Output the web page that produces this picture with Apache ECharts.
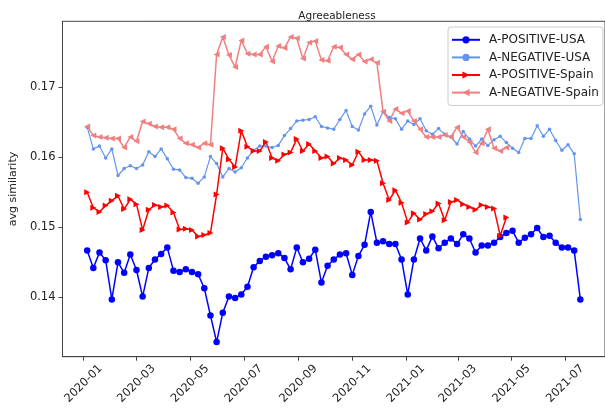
<!DOCTYPE html>
<html>
<head>
<meta charset="utf-8">
<script src="https://cdn.jsdelivr.net/npm/echarts@6/dist/echarts.min.js"></script>
<style>
  html, body { margin: 0; padding: 0; background: #fff; }
  #chart { width: 605px; height: 408px; }
</style>
</head>
<body>
<div id="chart"></div>
<script>
// Weekly sample dates (week starting Sunday)
const weeks = [
  '2020-01-05','2020-01-12','2020-01-19','2020-01-26','2020-02-02','2020-02-09','2020-02-16','2020-02-23',
  '2020-03-01','2020-03-08','2020-03-15','2020-03-22','2020-03-29','2020-04-05','2020-04-12','2020-04-19',
  '2020-04-26','2020-05-03','2020-05-10','2020-05-17','2020-05-24','2020-05-31','2020-06-07','2020-06-14',
  '2020-06-21','2020-06-28','2020-07-05','2020-07-12','2020-07-19','2020-07-26','2020-08-02','2020-08-09',
  '2020-08-16','2020-08-23','2020-08-30','2020-09-06','2020-09-13','2020-09-20','2020-09-27','2020-10-04',
  '2020-10-11','2020-10-18','2020-10-25','2020-11-01','2020-11-08','2020-11-15','2020-11-22','2020-11-29',
  '2020-12-06','2020-12-13','2020-12-20','2020-12-27','2021-01-03','2021-01-10','2021-01-17','2021-01-24',
  '2021-01-31','2021-02-07','2021-02-14','2021-02-21','2021-02-28','2021-03-07','2021-03-14','2021-03-21',
  '2021-03-28','2021-04-04','2021-04-11','2021-04-18','2021-04-25','2021-05-02','2021-05-09','2021-05-16',
  '2021-05-23','2021-05-30','2021-06-06','2021-06-13','2021-06-20','2021-06-27','2021-07-04','2021-07-11',
  '2021-07-18'
];

const positiveUSA = [
  0.1467, 0.1442, 0.1464, 0.1453, 0.1397, 0.1450, 0.1435, 0.1461, 0.1439, 0.1401,
  0.1442, 0.1454, 0.1462, 0.1471, 0.1438, 0.1436, 0.1440, 0.1436, 0.1433, 0.1413,
  0.1374, 0.1336, 0.1378, 0.1401, 0.1399, 0.1404, 0.1415, 0.1443, 0.1452, 0.1458,
  0.1460, 0.1463, 0.1456, 0.1440, 0.1471, 0.1450, 0.1455, 0.1468, 0.1421, 0.1445,
  0.1454, 0.1461, 0.1463, 0.1432, 0.1459, 0.1475, 0.1522, 0.1478, 0.1480, 0.1476,
  0.1476, 0.1454, 0.1404, 0.1454, 0.1484, 0.1467, 0.1487, 0.1470, 0.1478, 0.1484,
  0.1476, 0.1490, 0.1484, 0.1464, 0.1474, 0.1474, 0.1478, 0.1486, 0.1492, 0.1495,
  0.1478, 0.1485, 0.1490, 0.1499, 0.1486, 0.1488, 0.1478, 0.1471, 0.1471, 0.1467,
  0.1397
];

const negativeUSA = [
  0.1643, 0.1612, 0.1616, 0.1599, 0.1612, 0.1574, 0.1584, 0.1588, 0.1584, 0.1589,
  0.1608, 0.1601, 0.1612, 0.1598, 0.1583, 0.1582, 0.1571, 0.1570, 0.1563, 0.1572,
  0.1601, 0.1591, 0.1572, 0.1584, 0.1579, 0.1585, 0.1599, 0.1610, 0.1616, 0.1616,
  0.1614, 0.1617, 0.1631, 0.1641, 0.1652, 0.1653, 0.1654, 0.1658, 0.1644, 0.1642,
  0.1640, 0.1654, 0.1667, 0.1644, 0.1639, 0.1662, 0.1673, 0.1646, 0.1665, 0.1657,
  0.1655, 0.1640, 0.1652, 0.1647, 0.1655, 0.1638, 0.1633, 0.1641, 0.1633, 0.1629,
  0.1619, 0.1637, 0.1626, 0.1616, 0.1626, 0.1617, 0.1625, 0.1630, 0.1621, 0.1613,
  0.1607, 0.1627, 0.1627, 0.1645, 0.1630, 0.1640, 0.1624, 0.1610, 0.1618, 0.1605,
  0.1511
];

const positiveSpain = [
  0.1550, 0.1528, 0.1522, 0.1531, 0.1538, 0.1545, 0.1526, 0.1540, 0.1533, 0.1496,
  0.1525, 0.1532, 0.1529, 0.1531, 0.1521, 0.1497, 0.1498, 0.1496, 0.1487, 0.1489,
  0.1492, 0.1547, 0.1613, 0.1597, 0.1586, 0.1638, 0.1615, 0.1609, 0.1609, 0.1622,
  0.1599, 0.1595, 0.1604, 0.1607, 0.1626, 0.1609, 0.1619, 0.1609, 0.1599, 0.1601,
  0.1591, 0.1599, 0.1596, 0.1589, 0.1608, 0.1596, 0.1596, 0.1595, 0.1563, 0.1539,
  0.1553, 0.1535, 0.1507, 0.1520, 0.1511, 0.1519, 0.1523, 0.1534, 0.1510, 0.1536,
  0.1539, 0.1533, 0.1529, 0.1525, 0.1532, 0.1529, 0.1527, 0.1488, 0.1514
];

const negativeSpain = [
  0.1644, 0.1631, 0.1629, 0.1628, 0.1627, 0.1627, 0.1614, 0.1629, 0.1623, 0.1651,
  0.1648, 0.1644, 0.1643, 0.1643, 0.1640, 0.1627, 0.1620, 0.1618, 0.1614, 0.1620,
  0.1618, 0.1747, 0.1772, 0.1746, 0.1729, 0.1767, 0.1748, 0.1747, 0.1747, 0.1758,
  0.1737, 0.1759, 0.1756, 0.1772, 0.1770, 0.1741, 0.1764, 0.1766, 0.1739, 0.1738,
  0.1758, 0.1757, 0.1747, 0.1740, 0.1747, 0.1737, 0.1740, 0.1735, 0.1665, 0.1652,
  0.1669, 0.1663, 0.1666, 0.1652, 0.1640, 0.1629, 0.1629, 0.1629, 0.1632, 0.1629,
  0.1643, 0.1629, 0.1622, 0.1607, 0.1620, 0.1640, 0.1613, 0.1609, 0.1614
];

const xTickLabels = ['2020-01','2020-03','2020-05','2020-07','2020-09','2020-11',
                     '2021-01','2021-03','2021-05','2021-07'];
const yTickValues = [0.14, 0.15, 0.16, 0.17];

// Dates are placed on a linear axis measured in days since 2020-01-01 (UTC)
const DAY = 86400000;
const EPOCH = Date.UTC(2020, 0, 1);
function toDay(s) {
  const p = s.split('-').map(Number);
  return (Date.UTC(p[0], p[1] - 1, p[2] || 1) - EPOCH) / DAY;
}
function dayLabel(d) {
  const dt = new Date(EPOCH + Math.round(d) * DAY);
  return dt.getUTCFullYear() + '-' + String(dt.getUTCMonth() + 1).padStart(2, '0');
}
function pairs(values) {
  return values.map((v, i) => [toDay(weeks[i]), v]);
}

const xTickDays = xTickLabels.map(toDay);
const FONT = 'DejaVu Sans';
const chart = echarts.init(document.getElementById('chart'), null, { renderer: 'canvas' });

const seriesBase = { type: 'line', showAllSymbol: true, animation: false, emphasis: { disabled: true } };

chart.setOption({
  animation: false,
  backgroundColor: '#fff',
  title: {
    text: 'Agreeableness',
    left: 332, top: 6, textAlign: 'center',
    textStyle: { fontFamily: FONT, fontSize: 10.5, fontWeight: 'normal', color: '#222' }
  },
  grid: {
    left: 54.3, right: -6.4, top: 21.3, bottom: 51.3,
    show: true, borderColor: '#444', borderWidth: 1, backgroundColor: 'transparent'
  },
  legend: {
    orient: 'vertical',
    left: 448, top: 27,
    padding: [4, 4, 4, 3],
    itemWidth: 28, itemHeight: 9, itemGap: 0,
    backgroundColor: '#fff', borderColor: '#ccc', borderWidth: 1, borderRadius: 3,
    textStyle: { fontFamily: FONT, fontSize: 12, color: '#222', lineHeight: 17.6, padding: [0, 0, 0, 4] },
    data: ['A-POSITIVE-USA', 'A-NEGATIVE-USA', 'A-POSITIVE-Spain', 'A-NEGATIVE-Spain']
  },
  xAxis: {
    type: 'value',
    min: toDay('2019-12-08'),
    max: toDay('2021-08-15'),
    splitLine: { show: false },
    axisLine: { onZero: false, lineStyle: { color: '#444', width: 1 } },
    axisTick: { show: true, length: 4, lineStyle: { color: '#444' }, customValues: xTickDays },
    axisLabel: {
      customValues: xTickDays,
      formatter: v => dayLabel(v),
      rotate: 45, align: 'center', verticalAlign: 'middle', margin: 27,
      fontFamily: FONT, fontSize: 11.5, color: '#222', hideOverlap: false
    }
  },
  yAxis: {
    type: 'value',
    min: 0.13151, max: 0.17943,
    name: 'avg similarity',
    nameLocation: 'middle', nameRotate: 90, nameGap: 38,
    nameTextStyle: { fontFamily: FONT, fontSize: 11, color: '#222' },
    splitLine: { show: false },
    axisLine: { show: true, onZero: false, lineStyle: { color: '#444', width: 1 } },
    axisTick: { show: true, length: 4, lineStyle: { color: '#444' }, customValues: yTickValues },
    axisLabel: {
      customValues: yTickValues,
      formatter: v => v.toFixed(2),
      margin: 7, fontFamily: FONT, fontSize: 11.5, color: '#222'
    }
  },
  series: [
    Object.assign({}, seriesBase, {
      name: 'A-POSITIVE-USA', data: pairs(positiveUSA),
      symbol: 'circle', symbolSize: 6.5,
      lineStyle: { color: '#0000ff', width: 1.5 }, itemStyle: { color: '#0000ff' }
    }),
    Object.assign({}, seriesBase, {
      name: 'A-NEGATIVE-USA', data: pairs(negativeUSA),
      symbol: 'circle', symbolSize: 3.5,
      lineStyle: { color: '#6495ed', width: 1.2 }, itemStyle: { color: '#6495ed' }
    }),
    Object.assign({}, seriesBase, {
      name: 'A-POSITIVE-Spain', data: pairs(positiveSpain),
      symbol: 'triangle', symbolSize: 6, symbolRotate: -90,
      lineStyle: { color: '#ff0000', width: 1.5 }, itemStyle: { color: '#ff0000' }
    }),
    Object.assign({}, seriesBase, {
      name: 'A-NEGATIVE-Spain', data: pairs(negativeSpain),
      symbol: 'triangle', symbolSize: 6, symbolRotate: 90,
      lineStyle: { color: '#f08080', width: 1.5 }, itemStyle: { color: '#f08080' }
    })
  ]
});
</script>
</body>
</html>
